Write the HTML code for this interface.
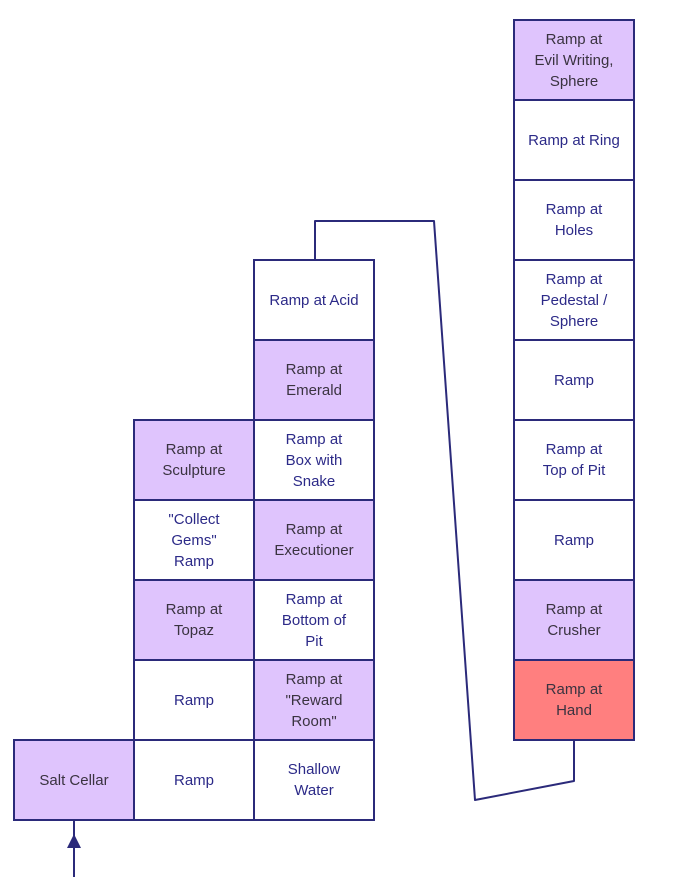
<!DOCTYPE html>
<html><head><meta charset="utf-8"><style>
html,body{margin:0;padding:0;background:#fff;}
#w{position:relative;width:676px;height:877px;overflow:hidden;}
svg{position:absolute;left:0;top:0;}
.t{position:absolute;width:120px;height:80px;display:flex;align-items:center;justify-content:center;text-align:center;font-family:"Liberation Sans",sans-serif;font-size:15px;line-height:21px;color:#2c2a88;}
.d{color:#3a3340;}
</style></head><body><div id="w">
<svg width="676" height="877" viewBox="0 0 676 877">
<g stroke="#2b2a7a" stroke-width="2" fill="none" stroke-linejoin="round">
<polyline points="315,260 315,221 434,221 475,800 574,781 574,740"/>
<line x1="74" y1="820" x2="74" y2="877"/>
</g>
<polygon points="74,834 67,848 81,848" fill="#2b2a7a"/>
<g stroke="#2b2a7a" stroke-width="2">
<rect x="14" y="740" width="120" height="80" fill="#dfc4fd"/>
<rect x="134" y="740" width="120" height="80" fill="#fff"/>
<rect x="134" y="660" width="120" height="80" fill="#fff"/>
<rect x="134" y="580" width="120" height="80" fill="#dfc4fd"/>
<rect x="134" y="500" width="120" height="80" fill="#fff"/>
<rect x="134" y="420" width="120" height="80" fill="#dfc4fd"/>
<rect x="254" y="740" width="120" height="80" fill="#fff"/>
<rect x="254" y="660" width="120" height="80" fill="#dfc4fd"/>
<rect x="254" y="580" width="120" height="80" fill="#fff"/>
<rect x="254" y="500" width="120" height="80" fill="#dfc4fd"/>
<rect x="254" y="420" width="120" height="80" fill="#fff"/>
<rect x="254" y="340" width="120" height="80" fill="#dfc4fd"/>
<rect x="254" y="260" width="120" height="80" fill="#fff"/>
<rect x="514" y="20" width="120" height="80" fill="#dfc4fd"/>
<rect x="514" y="100" width="120" height="80" fill="#fff"/>
<rect x="514" y="180" width="120" height="80" fill="#fff"/>
<rect x="514" y="260" width="120" height="80" fill="#fff"/>
<rect x="514" y="340" width="120" height="80" fill="#fff"/>
<rect x="514" y="420" width="120" height="80" fill="#fff"/>
<rect x="514" y="500" width="120" height="80" fill="#fff"/>
<rect x="514" y="580" width="120" height="80" fill="#dfc4fd"/>
<rect x="514" y="660" width="120" height="80" fill="#ff7f7f"/>
</g>
</svg>
<div class="t d" style="left:14px;top:740px">Salt Cellar</div>
<div class="t" style="left:134px;top:740px">Ramp</div>
<div class="t" style="left:134px;top:660px">Ramp</div>
<div class="t d" style="left:134px;top:580px">Ramp at<br>Topaz</div>
<div class="t" style="left:134px;top:500px">"Collect<br>Gems"<br>Ramp</div>
<div class="t d" style="left:134px;top:420px">Ramp at<br>Sculpture</div>
<div class="t" style="left:254px;top:740px">Shallow<br>Water</div>
<div class="t d" style="left:254px;top:660px">Ramp at<br>"Reward<br>Room"</div>
<div class="t" style="left:254px;top:580px">Ramp at<br>Bottom of<br>Pit</div>
<div class="t d" style="left:254px;top:500px">Ramp at<br>Executioner</div>
<div class="t" style="left:254px;top:420px">Ramp at<br>Box with<br>Snake</div>
<div class="t d" style="left:254px;top:340px">Ramp at<br>Emerald</div>
<div class="t" style="left:254px;top:260px">Ramp at Acid</div>
<div class="t d" style="left:514px;top:20px">Ramp at<br>Evil Writing,<br>Sphere</div>
<div class="t" style="left:514px;top:100px">Ramp at Ring</div>
<div class="t" style="left:514px;top:180px">Ramp at<br>Holes</div>
<div class="t" style="left:514px;top:260px">Ramp at<br>Pedestal /<br>Sphere</div>
<div class="t" style="left:514px;top:340px">Ramp</div>
<div class="t" style="left:514px;top:420px">Ramp at<br>Top of Pit</div>
<div class="t" style="left:514px;top:500px">Ramp</div>
<div class="t d" style="left:514px;top:580px">Ramp at<br>Crusher</div>
<div class="t d" style="left:514px;top:660px">Ramp at<br>Hand</div>
</div></body></html>
